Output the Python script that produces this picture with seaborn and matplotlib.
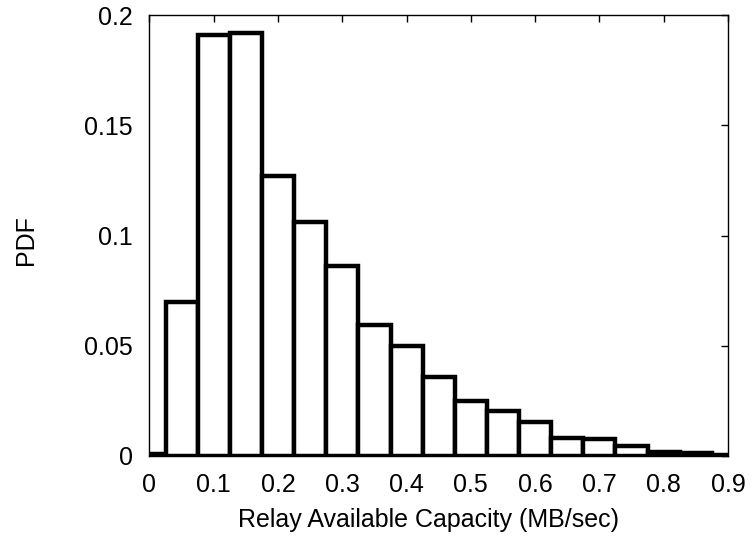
import matplotlib
matplotlib.use('Agg')
import matplotlib.pyplot as plt
import pandas as pd
import seaborn as sns

# Bin centres (MB/sec) and PDF value per bin
bin_centers = [0.0, 0.05, 0.1, 0.15, 0.2, 0.25, 0.3, 0.35, 0.4, 0.45,
               0.5, 0.55, 0.6, 0.65, 0.7, 0.75, 0.8, 0.85, 0.9]
pdf_values = [0.001, 0.070, 0.191, 0.192, 0.127, 0.106, 0.086, 0.0595, 0.050, 0.036,
              0.025, 0.0205, 0.0155, 0.008, 0.0075, 0.0047, 0.0018, 0.0012, 0.0005]
bin_width = 0.05

x_ticks = [0, 0.1, 0.2, 0.3, 0.4, 0.5, 0.6, 0.7, 0.8, 0.9]
x_tick_labels = ['0', '0.1', '0.2', '0.3', '0.4', '0.5', '0.6', '0.7', '0.8', '0.9']
y_ticks = [0, 0.05, 0.1, 0.15, 0.2]
y_tick_labels = ['0', '0.05', '0.1', '0.15', '0.2']

sns.set_style('white')
plt.rcParams['font.family'] = ['Liberation Sans', 'DejaVu Sans']
plt.rcParams['text.color'] = 'black'
plt.rcParams['axes.labelcolor'] = 'black'

df = pd.DataFrame({'capacity': bin_centers, 'pdf': pdf_values})

fig = plt.figure(figsize=(7.52, 5.39), dpi=100)
ax = fig.add_axes([0.1988, 0.154, 0.7692, 0.818])

edges = [c - bin_width / 2 for c in bin_centers] + [bin_centers[-1] + bin_width / 2]
sns.histplot(data=df, x='capacity', weights='pdf', bins=edges, stat='count',
             color='white', edgecolor='black', linewidth=3.2, alpha=1, ax=ax)

ax.set_xlim(0, 0.9)
ax.set_ylim(0, 0.2)
ax.set_xticks(x_ticks)
ax.set_xticklabels(x_tick_labels)
ax.set_yticks(y_ticks)
ax.set_yticklabels(y_tick_labels)
ax.tick_params(direction='in', length=5, width=1, top=True, right=True,
               labelsize=18, pad=12, colors='black')
for s in ax.spines.values():
    s.set_linewidth(1)
    s.set_color('black')

ax.set_xlabel('Relay Available Capacity (MB/sec)', fontsize=18, color='black')
ax.xaxis.label.set_va('baseline')
ax.xaxis.set_label_coords(0.482, -0.16)
ax.set_ylabel('PDF', fontsize=18, color='black')
ax.yaxis.label.set_va('center')
ax.yaxis.set_label_coords(-0.213, 0.49)

fig.savefig('out.png', dpi=100)
